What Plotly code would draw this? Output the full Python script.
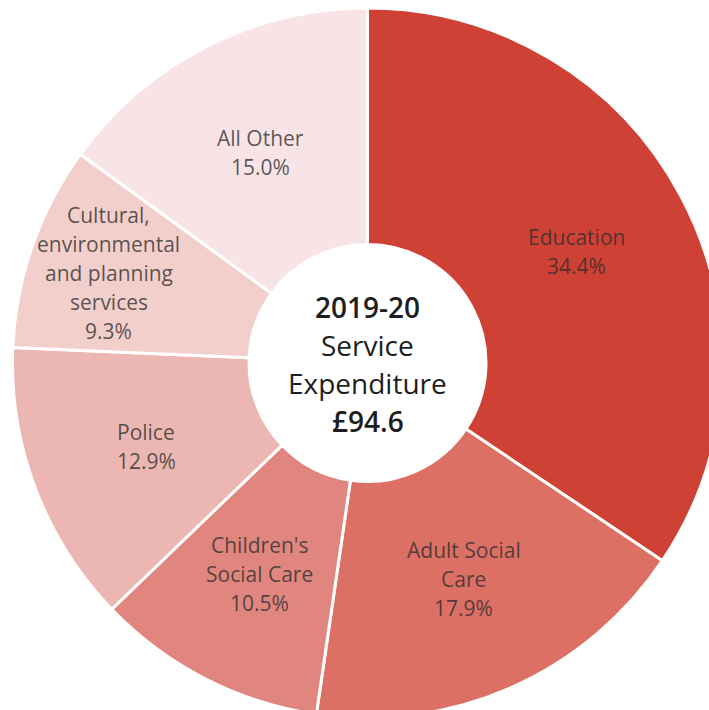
import math
import plotly.graph_objects as go

# Service expenditure shares, clockwise from 12 o'clock
categories = [
    "Education",
    "Adult Social<br>Care",
    "Children's<br>Social Care",
    "Police",
    "Cultural,<br>environmental<br>and planning<br>services",
    "All Other",
]
shares = [34.4, 17.9, 10.5, 12.9, 9.3, 15.0]
colors = ["#D04135", "#DD7065", "#E1867E", "#ECB7B2", "#F3CFCB", "#F8E4E6"]
# radial placement of each label, as a fraction of the outer radius
label_radius = [0.667, 0.667, 0.667, 0.667, 0.772, 0.667]

center_lines = [("2019-20", 600), ("Service", 400), ("Expenditure", 400), ("£94.6", 600)]

W, H = 735, 726
CX, CY, R = 367.5, 363.0, 355.0
HOLE = 118.5 / R
LABEL_STEP = 29.0
CENTER_STEP = 38.0

fig = go.Figure(
    go.Pie(
        labels=categories,
        values=shares,
        sort=False,
        direction="clockwise",
        rotation=0,
        hole=HOLE,
        marker=dict(colors=colors, line=dict(color="white", width=3)),
        textinfo="none",
        hoverinfo="label+percent",
        showlegend=False,
        domain=dict(x=[(CX - R) / W, (CX + R) / W],
                    y=[(H - CY - R) / H, (H - CY + R) / H]),
    )
)


def text_line(px, py, text, size, color, weight=400):
    return dict(
        x=px / W, y=1 - py / H, xref="paper", yref="paper",
        text=text, showarrow=False,
        font=dict(family="Open Sans", size=size, color=color, weight=weight),
        align="center", xanchor="center", yanchor="middle",
    )


annotations = []
total = sum(shares)
cum = 0.0
for name, val, rf in zip(categories, shares, label_radius):
    mid = (cum + val / 2) / total * 2 * math.pi
    cum += val
    px = CX + rf * R * math.sin(mid)
    py = CY - rf * R * math.cos(mid)
    lines = name.split("<br>") + [f"{val:.1f}%"]
    n = len(lines)
    for i, ln in enumerate(lines):
        annotations.append(text_line(px, py + (i - (n - 1) / 2) * LABEL_STEP,
                                     ln, 21, "rgba(45,45,45,0.78)"))

n = len(center_lines)
for i, (ln, wt) in enumerate(center_lines):
    annotations.append(text_line(CX, CY + 1 + (i - (n - 1) / 2) * CENTER_STEP,
                                 ln, 28, "#1e1e1e", wt))

fig.update_layout(
    width=W, height=H,
    margin=dict(l=0, r=0, t=0, b=0),
    paper_bgcolor="white",
    plot_bgcolor="white",
    annotations=annotations,
)

fig.write_html(
    "out.html",
    post_script="document.documentElement.style.overflow='hidden';document.body.style.overflow='hidden';",
)
